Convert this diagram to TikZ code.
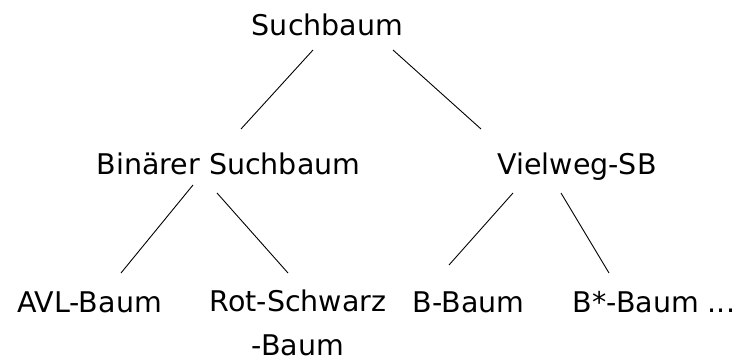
\documentclass[tikz,border=0pt]{standalone}
\usepackage{fontspec}
\setmainfont{DejaVu Sans}
\usetikzlibrary{calc}
\tikzset{
  label/.style={font=\fontsize{28.5}{44}\selectfont, inner sep=0pt, anchor=base, align=center},
  edge/.style={line width=0.9pt, black}
}
\begin{document}
\begin{tikzpicture}[x=1pt, y=-1pt]
  \useasboundingbox (0,0) rectangle (737,363);
  % tree nodes, placed at their (last) baselines
  \node[label] (root) at (327.5,36)  {Suchbaum};
  \node[label] (bin)  at (228.5,175) {Binärer Suchbaum};
  \node[label] (viel) at (577,175)   {Vielweg-SB};
  \node[label] (avl)  at (89.5,313)  {AVL-Baum};
  \node[label] (rs)   at (298,356)   {Rot-Schwarz\\-Baum};
  \node[label] (bb)   at (468.5,313) {B-Baum};
  \node[label] (bs)   at (654,313)   {B*-Baum ...};
  % edges
  \draw[edge] ($(root.base)+(-14.5,14)$) -- ($(bin.base)+(12.5,-46)$);
  \draw[edge] ($(root.base)+(65.5,14)$)  -- ($(viel.base)+(-96,-46)$);
  \draw[edge] ($(bin.base)+(-35.5,10)$)  -- ($(avl.base)+(31.5,-40)$);
  \draw[edge] ($(bin.base)+(-11.5,18)$)  -- ($(rs.base)+(-10,-83)$);
  \draw[edge] ($(viel.base)+(-64,18)$)   -- ($(bb.base)+(-19.5,-48)$);
  \draw[edge] ($(viel.base)+(-16,18)$)   -- ($(bs.base)+(-45,-40)$);
\end{tikzpicture}
\end{document}
